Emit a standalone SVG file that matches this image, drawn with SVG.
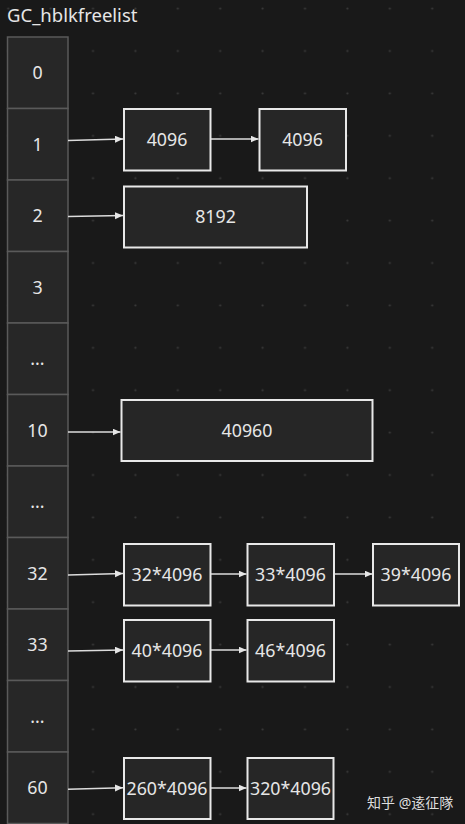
<svg xmlns="http://www.w3.org/2000/svg" width="465" height="824" viewBox="0 0 465 824">
<defs>
<pattern id="dots" patternUnits="userSpaceOnUse" x="71.8" y="29.8" width="42.4" height="42.4">
<circle cx="21.2" cy="21.2" r="1.1" fill="#3a3a3a"/>
</pattern>
<marker id="ah" markerUnits="userSpaceOnUse" markerWidth="9" markerHeight="8" refX="8" refY="3.5" orient="auto">
<path d="M0,0 L8,3.5 L0,7 z" fill="#e6e6e6"/>
</marker>
<style>
.t{font-family:"Noto Sans","Liberation Sans",sans-serif;font-size:17.8px;fill:#e6e6e6;text-anchor:middle}
.cell{fill:#272727;stroke:#5a5a5a;stroke-width:1.5}
.box{fill:#262626;stroke:#e8e8e8;stroke-width:2}
.c{stroke:#dcdcdc;stroke-width:1.5;fill:none;marker-end:url(#ah)}
</style>
</defs>
<rect width="465" height="824" fill="#191919"/>
<rect width="465" height="824" fill="url(#dots)"/>
<text x="7" y="22" style="font-family:'Noto Sans','Liberation Sans',sans-serif;font-size:18.5px;fill:#e6e6e6">GC_hblkfreelist</text>
<g id="list">
<g id="cell0"><rect class="cell" x="7.5" y="37" width="60.5" height="71.5"/><text class="t" x="37.5" y="79">0</text></g>
<g id="cell1"><rect class="cell" x="7.5" y="108.5" width="60.5" height="71.5"/><text class="t" x="37.5" y="150.5">1</text></g>
<g id="cell2"><rect class="cell" x="7.5" y="180" width="60.5" height="71.5"/><text class="t" x="37.5" y="222">2</text></g>
<g id="cell3"><rect class="cell" x="7.5" y="251.5" width="60.5" height="71.5"/><text class="t" x="37.5" y="293.5">3</text></g>
<g id="cell4"><rect class="cell" x="7.5" y="323" width="60.5" height="71.5"/><text class="t" x="37.5" y="365">...</text></g>
<g id="cell10"><rect class="cell" x="7.5" y="394.5" width="60.5" height="71.5"/><text class="t" x="37.5" y="436.5">10</text></g>
<g id="cell6"><rect class="cell" x="7.5" y="466" width="60.5" height="71.5"/><text class="t" x="37.5" y="508">...</text></g>
<g id="cell32"><rect class="cell" x="7.5" y="537.5" width="60.5" height="71.5"/><text class="t" x="37.5" y="579.5">32</text></g>
<g id="cell33"><rect class="cell" x="7.5" y="609" width="60.5" height="71.5"/><text class="t" x="37.5" y="651">33</text></g>
<g id="cell9"><rect class="cell" x="7.5" y="680.5" width="60.5" height="71.5"/><text class="t" x="37.5" y="722.5">...</text></g>
<g id="cell60"><rect class="cell" x="7.5" y="752" width="60.5" height="71.5"/><text class="t" x="37.5" y="794">60</text></g>
</g>
<g id="connectors">
<line class="c" x1="68" y1="140.5" x2="123" y2="139"/>
<line class="c" x1="211" y1="139" x2="258.5" y2="139"/>
<line class="c" x1="68" y1="216.5" x2="123" y2="215.5"/>
<line class="c" x1="68" y1="432" x2="120.5" y2="432"/>
<line class="c" x1="68" y1="575" x2="123" y2="573.5"/>
<line class="c" x1="211" y1="574" x2="246.5" y2="574"/>
<line class="c" x1="334" y1="574" x2="372.5" y2="574"/>
<line class="c" x1="68" y1="651" x2="123" y2="650"/>
<line class="c" x1="211" y1="650" x2="246.5" y2="650"/>
<line class="c" x1="68" y1="789.3" x2="123" y2="787.7"/>
<line class="c" x1="211" y1="788" x2="246.5" y2="788"/>
</g>
<g id="b1a"><rect class="box" x="124" y="109" width="86.5" height="61.5"/><text class="t" x="167" y="146">4096</text></g>
<g id="b1b"><rect class="box" x="259.5" y="109" width="86.5" height="61.5"/><text class="t" x="302.5" y="146">4096</text></g>
<g id="b2"><rect class="box" x="124" y="186.5" width="183" height="61"/><text class="t" x="215.5" y="223">8192</text></g>
<g id="b10"><rect class="box" x="121.5" y="400" width="251" height="61"/><text class="t" x="247" y="436.5">40960</text></g>
<g id="b32a"><rect class="box" x="124" y="544" width="86.5" height="61.5"/><text class="t" x="167" y="581">32*4096</text></g>
<g id="b32b"><rect class="box" x="247.5" y="544" width="86.5" height="61.5"/><text class="t" x="290.5" y="581">33*4096</text></g>
<g id="b32c"><rect class="box" x="373" y="544" width="86" height="61.5"/><text class="t" x="416" y="581">39*4096</text></g>
<g id="b33a"><rect class="box" x="124" y="620" width="86.5" height="61.5"/><text class="t" x="167" y="657">40*4096</text></g>
<g id="b33b"><rect class="box" x="247.5" y="620" width="86.5" height="61.5"/><text class="t" x="290.5" y="657">46*4096</text></g>
<g id="b60a"><rect class="box" x="124" y="758" width="86.5" height="61"/><text class="t" x="167" y="794.5">260*4096</text></g>
<g id="b60b"><rect class="box" x="247.5" y="758" width="86" height="61"/><text class="t" x="290.5" y="794.5">320*4096</text></g>
<text x="367" y="808" style="font-family:'Noto Sans','Noto Sans CJK SC',sans-serif;font-size:14px;fill:#dddddd">知乎 @逺征隊</text>
</svg>
